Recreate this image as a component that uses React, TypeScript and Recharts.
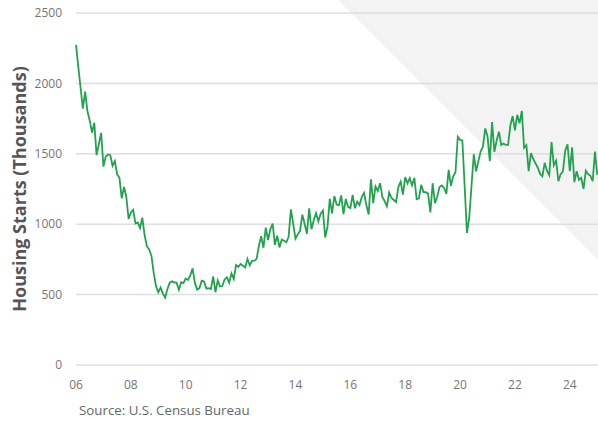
import React from 'react';
import { LineChart, Line, XAxis, YAxis, CartesianGrid } from 'recharts';

// monthly housing starts, SAAR, thousands
const years = [2006, 2007, 2008, 2009, 2010, 2011, 2012, 2013, 2014, 2015, 2016, 2017, 2018, 2019, 2020, 2021, 2022, 2023, 2024, 2025];

const starts2006 = [2273, 2119, 1969, 1821, 1942, 1802, 1737, 1650, 1720, 1491, 1570, 1649];
const starts2007 = [1409, 1480, 1495, 1490, 1415, 1448, 1354, 1330, 1183, 1264, 1197, 1037];
const starts2008 = [1084, 1103, 1005, 1013, 973, 1046, 923, 844, 820, 777, 652, 560];
const starts2009 = [517, 550, 507, 478, 540, 585, 594, 586, 585, 534, 588, 581];
const starts2010 = [614, 604, 636, 687, 583, 536, 546, 599, 594, 543, 545, 539];
const starts2011 = [630, 517, 600, 558, 561, 608, 623, 585, 650, 611, 711, 697];
const starts2012 = [717, 705, 693, 753, 708, 739, 741, 754, 847, 915, 833, 976];
const starts2013 = [888, 962, 1005, 853, 919, 835, 891, 883, 872, 911, 1105, 1003];
const starts2014 = [897, 928, 953, 1068, 1003, 931, 1113, 964, 1030, 1079, 1021, 1074];
const starts2015 = [1097, 906, 981, 1181, 1077, 1200, 1140, 1134, 1204, 1071, 1179, 1123];
const starts2016 = [1114, 1208, 1113, 1160, 1136, 1195, 1223, 1136, 1069, 1319, 1150, 1268];
const starts2017 = [1236, 1291, 1193, 1164, 1128, 1225, 1186, 1172, 1158, 1265, 1303, 1210];
const starts2018 = [1334, 1290, 1327, 1276, 1329, 1177, 1184, 1280, 1228, 1227, 1217, 1083];
const starts2019 = [1291, 1149, 1195, 1264, 1276, 1258, 1215, 1386, 1272, 1340, 1371, 1621];
const starts2020 = [1599, 1595, 1269, 938, 1046, 1273, 1497, 1376, 1446, 1517, 1551, 1680];
const starts2021 = [1625, 1447, 1725, 1514, 1594, 1657, 1562, 1573, 1563, 1563, 1703, 1768];
const starts2022 = [1666, 1777, 1716, 1805, 1543, 1561, 1377, 1505, 1463, 1432, 1401, 1357];
const starts2023 = [1340, 1436, 1380, 1348, 1583, 1418, 1451, 1305, 1356, 1376, 1525, 1568];
const starts2024 = [1376, 1546, 1299, 1377, 1315, 1329, 1250, 1379, 1355, 1344, 1305, 1515];
const starts2025 = [1350];

const startsByYear = [
  starts2006, starts2007, starts2008, starts2009, starts2010, starts2011, starts2012,
  starts2013, starts2014, starts2015, starts2016, starts2017, starts2018, starts2019,
  starts2020, starts2021, starts2022, starts2023, starts2024, starts2025,
];

const xTicks = [2006, 2008, 2010, 2012, 2014, 2016, 2018, 2020, 2022, 2024];
const yTicks = [0, 500, 1000, 1500, 2000, 2500];

const data = years.flatMap((yr, i) =>
  startsByYear[i].map((v, m) => ({ t: yr + m / 12, starts: v }))
);

const font = '"Open Sans", "Noto Sans", sans-serif';

export default function App() {
  return (
    <div style={{ position: 'absolute', left: 0, top: 0, width: 598, height: 421, overflow: 'hidden', background: '#fff', fontFamily: font }}>
      {/* grey wedge in the background */}
      <svg width={598} height={421} style={{ position: 'absolute', left: 0, top: 0 }}>
        <polygon points="338,0 600,0 600,262" fill="#f3f3f3" />
      </svg>
      <div style={{ position: 'absolute', left: 0, top: 0 }}>
        <LineChart width={600} height={421} data={data} margin={{ top: 13, right: 0, bottom: 26, left: 0 }}>
          <CartesianGrid vertical={false} stroke="#dedede" strokeWidth={1.5} />
          <XAxis
            dataKey="t"
            type="number"
            domain={[2006, 2025.1]}
            ticks={xTicks}
            tickFormatter={(v: number) => String(v).slice(2)}
            axisLine={false}
            tickLine={false}
            tickMargin={9}
            height={30}
            tick={{ fill: '#757575', fontSize: 12, fontFamily: font }}
          />
          <YAxis
            domain={[0, 2500]}
            ticks={yTicks}
            axisLine={false}
            tickLine={false}
            tickMargin={8}
            width={76}
            tick={{ fill: '#757575', fontSize: 12, fontFamily: font }}
            label={{
              value: 'Housing Starts (Thousands)',
              angle: -90,
              position: 'insideLeft',
              offset: 20,
              style: { textAnchor: 'middle', fill: '#555', fontSize: 18, fontWeight: 700, fontFamily: font },
            }}
          />
          <Line
            type="linear"
            dataKey="starts"
            stroke="#24a150"
            strokeWidth={1.8}
            dot={false}
            isAnimationActive={false}
          />
        </LineChart>
      </div>
      <div style={{ position: 'absolute', left: 79, top: 401, fontSize: 13.3, color: '#666', fontFamily: font }}>
        Source: U.S. Census Bureau
      </div>
    </div>
  );
}
